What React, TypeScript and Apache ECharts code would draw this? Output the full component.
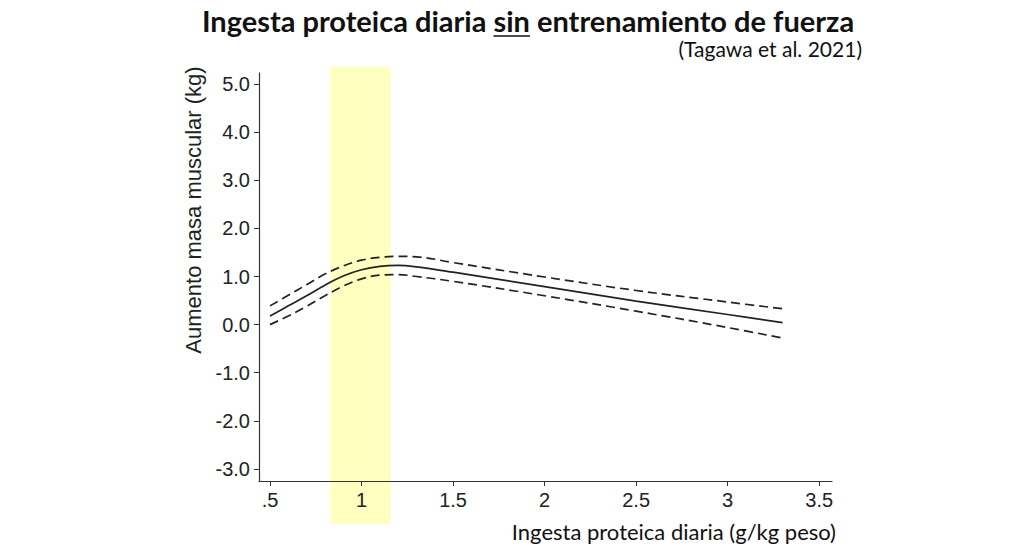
import React, { useEffect, useRef } from 'react';
import * as echarts from 'echarts';

// protein intake (g/kg body weight)
const xValues = [0.5, 0.6, 0.7, 0.8, 0.9, 1.0, 1.1, 1.2, 1.3, 1.5, 2.0, 2.5, 3.0, 3.3];
// muscle mass gain (kg): fitted curve and 95% CI
const fitted = [0.18, 0.39, 0.6, 0.82, 1.01, 1.14, 1.21, 1.23, 1.2, 1.09, 0.79, 0.49, 0.21, 0.04];
const upperCI = [0.39, 0.61, 0.83, 1.05, 1.22, 1.34, 1.4, 1.42, 1.41, 1.29, 0.99, 0.71, 0.47, 0.33];
const lowerCI = [0.0, 0.18, 0.38, 0.6, 0.8, 0.95, 1.03, 1.04, 1.0, 0.9, 0.6, 0.28, -0.06, -0.28];
// highlighted intake range
const bandRange = [0.83, 1.16];

const xTicks = [0.5, 1, 1.5, 2, 2.5, 3, 3.5];
const yTicks = [-3, -2, -1, 0, 1, 2, 3, 4, 5];

const titlePre = 'Ingesta proteica diaria ';
const titleSin = 'sin';
const titlePost = ' entrenamiento de fuerza';
const subtitle = '(Tagawa et al. 2021)';
const xName = 'Ingesta proteica diaria (g/kg peso)';
const yName = 'Aumento masa muscular (kg)';

const App: React.FC = () => {
  const chartRef = useRef<HTMLDivElement>(null);

  useEffect(() => {
    if (!chartRef.current) return;
    const chart = echarts.init(chartRef.current, undefined, { renderer: 'svg' });

    const tickFont = 'Liberation Sans, Arial, sans-serif';
    const titleFont = 'bold 29px Lato';
    const grid = { left: 259, right: 192, top: 73, bottom: 71 };

    // measure title pieces for the underline under "sin"
    const ctx = document.createElement('canvas').getContext('2d')!;
    ctx.font = titleFont;
    const wPre = ctx.measureText(titlePre).width;
    const wSin = ctx.measureText(titleSin).width;
    const wAll = ctx.measureText(titlePre + titleSin + titlePost).width;
    const titleCx = 528;
    const titleLeft = titleCx - wAll / 2;

    const toPairs = (ys: number[]) => xValues.map((x, i) => [x, ys[i]]);
    const fmtX = (v: number) => (v < 1 ? String(v).replace(/^0/, '') : String(v));

    const lineBase = {
      type: 'line' as const,
      showSymbol: false,
      smooth: 0.4,
      silent: true,
      z: 3,
    };

    chart.setOption({
      animation: false,
      grid,
      xAxis: {
        type: 'value',
        min: 0.44,
        max: 3.57,
        axisLine: { onZero: false, lineStyle: { color: '#333', width: 1.2 } },
        axisTick: { customValues: xTicks, length: 5, lineStyle: { color: '#333' } },
        axisLabel: {
          customValues: xTicks,
          formatter: (v: number) => fmtX(v),
          color: '#222',
          fontSize: 20,
          fontFamily: tickFont,
          margin: 9,
        },
        splitLine: { show: false },
      },
      yAxis: {
        type: 'value',
        min: -3.25,
        max: 5.23,
        axisLine: { show: true, onZero: false, lineStyle: { color: '#333', width: 1.2 } },
        axisTick: { show: true, customValues: yTicks, length: 5, lineStyle: { color: '#333' } },
        axisLabel: {
          customValues: yTicks,
          formatter: (v: number) => v.toFixed(1),
          color: '#222',
          fontSize: 20,
          fontFamily: tickFont,
          margin: 9,
        },
        splitLine: { show: false },
      },
      series: [
        { ...lineBase, name: 'upper', data: toPairs(upperCI), lineStyle: { color: '#222', width: 1.7, type: [9, 5] } },
        { ...lineBase, name: 'fit', data: toPairs(fitted), lineStyle: { color: '#222', width: 1.7 } },
        { ...lineBase, name: 'lower', data: toPairs(lowerCI), lineStyle: { color: '#222', width: 1.7, type: [9, 5] } },
      ],
    });

    const bx1 = chart.convertToPixel({ xAxisIndex: 0 }, bandRange[0]) as number;
    const bx2 = chart.convertToPixel({ xAxisIndex: 0 }, bandRange[1]) as number;
    const gridTop = grid.top;
    const gridBottom = 552 - grid.bottom;

    chart.setOption({
      graphic: [
        {
          type: 'rect',
          z: -10,
          silent: true,
          shape: { x: bx1, y: gridTop - 6, width: bx2 - bx1, height: gridBottom - gridTop + 49 },
          style: { fill: '#FFFFC0' },
        },
        {
          type: 'text',
          x: titleLeft,
          y: 20,
          style: {
            text: titlePre + titleSin + titlePost,
            font: titleFont,
            fill: '#111',
            textAlign: 'left',
            textVerticalAlign: 'middle',
          },
        },
        {
          type: 'line',
          shape: { x1: titleLeft + wPre, y1: 36, x2: titleLeft + wPre + wSin, y2: 36 },
          style: { stroke: '#111', lineWidth: 1.5 },
        },
        {
          type: 'text',
          x: 862,
          y: 48,
          style: { text: subtitle, font: '21px Lato', fill: '#111', textAlign: 'right', textVerticalAlign: 'middle' },
        },
        {
          type: 'text',
          x: 836,
          y: 531,
          style: { text: xName, font: '22px Lato', fill: '#111', textAlign: 'right', textVerticalAlign: 'middle' },
        },
        {
          type: 'text',
          x: 193,
          y: 210,
          rotation: Math.PI / 2,
          style: {
            text: yName,
            font: `22px ${tickFont}`,
            fill: '#222',
            textAlign: 'center',
            textVerticalAlign: 'middle',
          },
        },
      ],
    });

    return () => {
      chart.dispose();
    };
  }, []);

  return <div ref={chartRef} style={{ width: 1024, height: 552, margin: -8 }} />;
};

export default App;
